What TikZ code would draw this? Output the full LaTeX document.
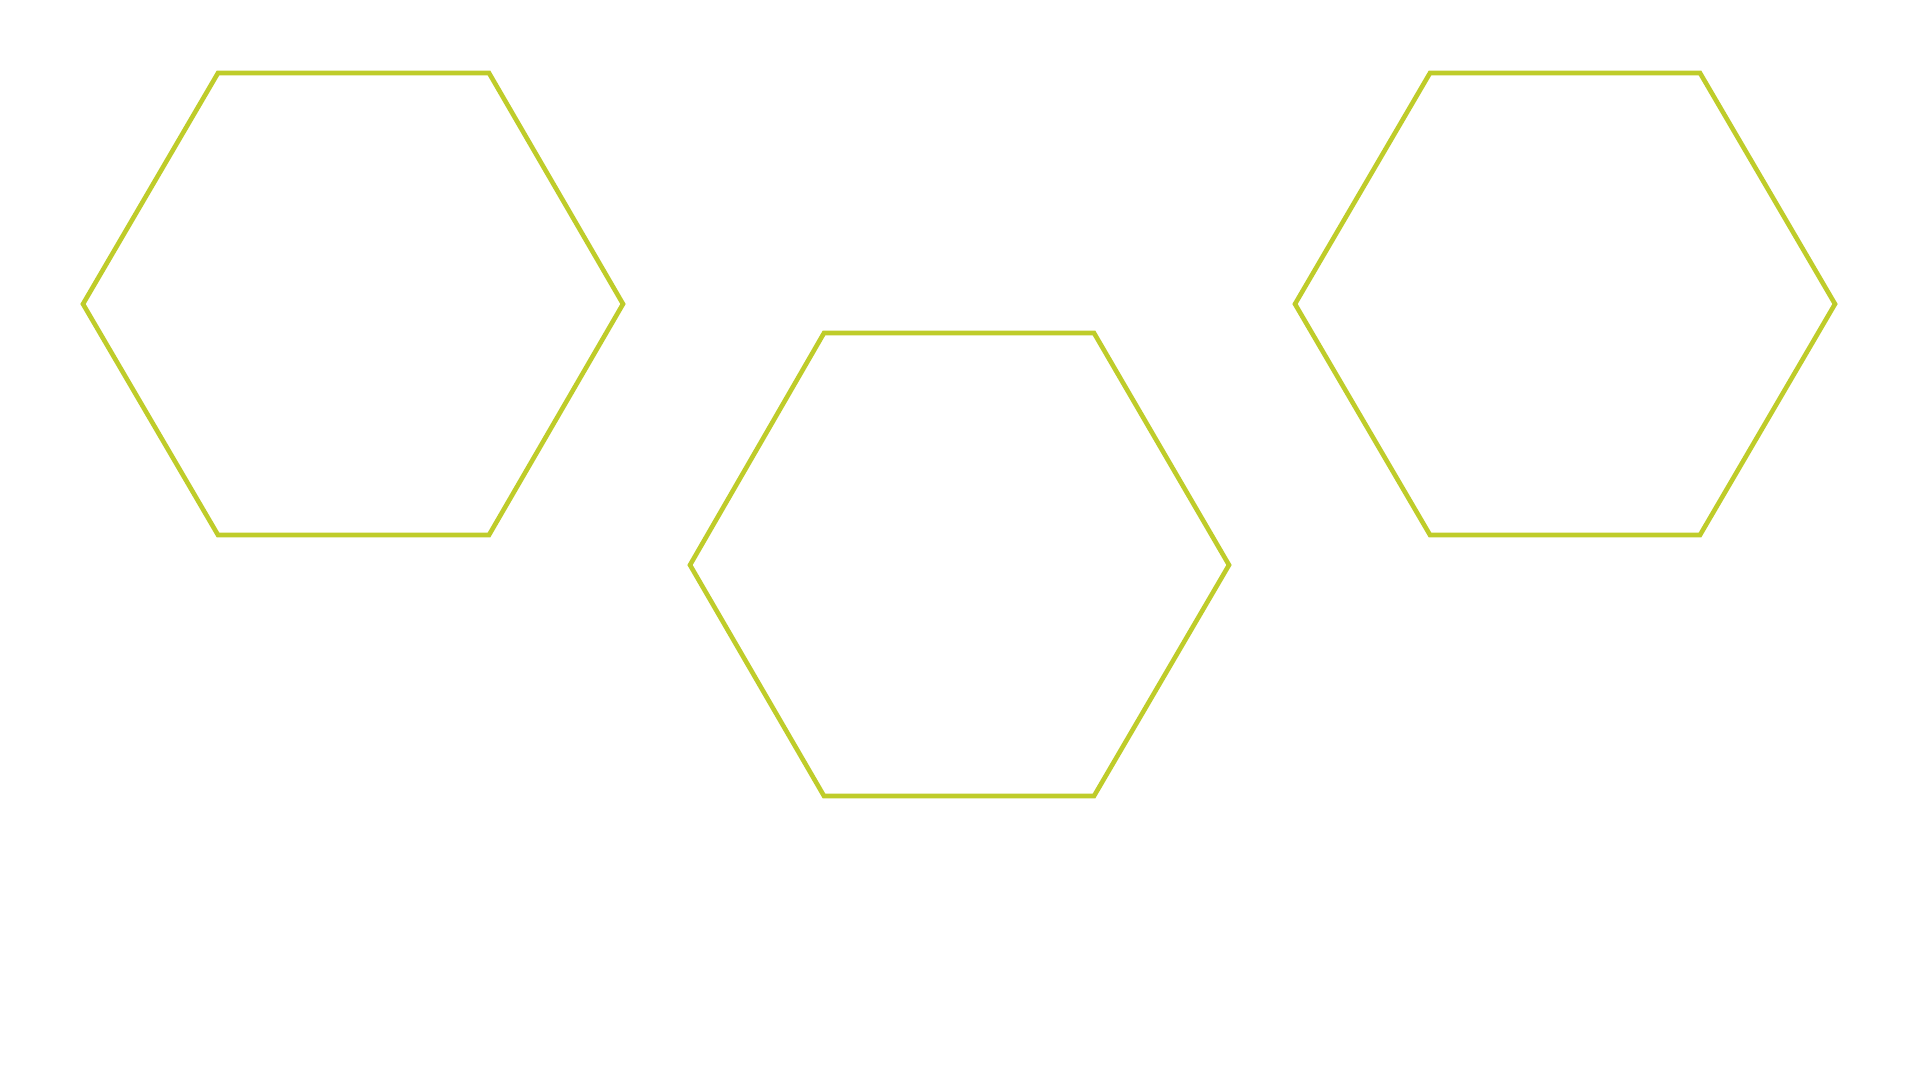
\documentclass[tikz,border=0pt]{standalone}
\definecolor{hexc}{HTML}{BFCC2A}
\begin{document}
\begin{tikzpicture}[x=1pt,y=-1pt,hexline/.style={draw=hexc,line width=4.6pt,line join=miter}]
\useasboundingbox[fill=white] (0,0) rectangle (1920,1080);
\draw[hexline] (218,73) -- (489,73) -- (623,304) -- (489,535) -- (218,535) -- (83,304) -- cycle;
\draw[hexline] (824,333) -- (1094,333) -- (1229,565) -- (1094,796) -- (824,796) -- (690,565) -- cycle;
\draw[hexline] (1430,73) -- (1700,73) -- (1835,304) -- (1700,535) -- (1430,535) -- (1295,304) -- cycle;
\end{tikzpicture}
\end{document}
